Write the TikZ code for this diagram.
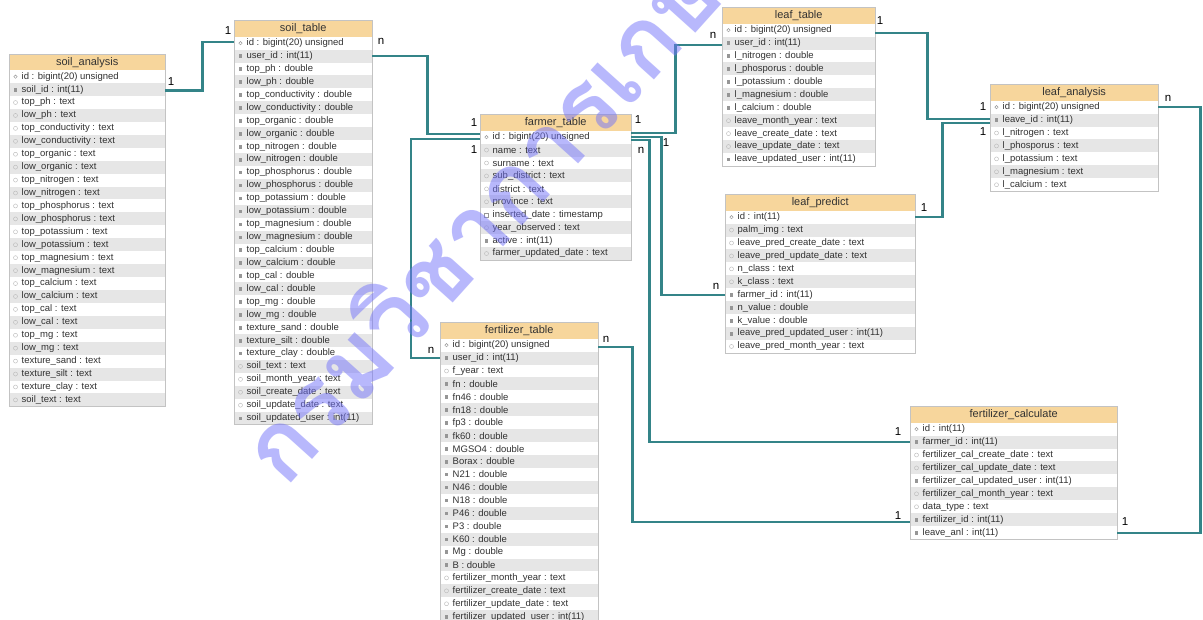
\documentclass[tikz,border=0pt]{standalone}
\usepackage{fontspec}
\setmainfont{Liberation Sans}
\newfontfamily\thaifont[Script=Thai]{Loma}
\definecolor{hdrfill}{RGB}{247,214,156}
\definecolor{rowgray}{RGB}{230,230,230}
\definecolor{bordergray}{RGB}{195,195,195}
\definecolor{txtgray}{RGB}{50,50,50}
\definecolor{iconcol}{RGB}{150,150,150}
\definecolor{conncol}{RGB}{52,132,136}
\definecolor{wmcol}{RGB}{115,115,250}
\tikzset{
  hdr/.style={fill=hdrfill, minimum height=16pt, inner sep=0pt, font=\fontsize{11}{12}\selectfont, text=txtgray},
  rowbox/.style={minimum height=12.93pt, inner sep=0pt},
  rowtxt/.style={anchor=west, inner sep=0pt, font=\fontsize{9.5}{10}\selectfont, text=txtgray},
  conn/.style={draw=conncol, line width=2.2pt},
  card/.style={font=\fontsize{11.5}{12}\selectfont, inner sep=0pt, text=black},
  wm/.style={text=wmcol, text opacity=0.5, inner sep=0pt, font=\fontsize{96}{100}\selectfont},
}
% #1 name, #2 left x, #3 top y, #4 width, #5 title, #6 rows
\newcommand{\ertable}[6]{%
  \node[hdr, minimum width=#4pt, anchor=north west] (#1) at (#2,#3) {#5};
  \foreach [count=\i] \ty/\tx in {#6} {
    \ifodd\i\def\rowfill{white}\else\def\rowfill{rowgray}\fi
    \node[rowbox, fill=\rowfill, minimum width=#4pt, anchor=north west] (#1-\i) at (#2,{#3+16+(\i-1)*12.93}) {};
    \if k\ty \draw[iconcol, line width=0.5pt] ([xshift=6.5pt]#1-\i.west) circle (1.7pt); \fi
    \if n\ty \fill[iconcol] ([xshift=5pt,yshift=-2pt]#1-\i.west) rectangle ++(3.2,-3.6); \fi
    \if t\ty \draw[iconcol!70, line width=0.4pt] ([xshift=6.5pt]#1-\i.west) circle (2pt); \fi
    \if d\ty \draw[iconcol, line width=0.4pt] ([xshift=4.5pt,yshift=-2pt]#1-\i.west) rectangle ++(4,-4); \fi
    \node[rowtxt] (#1-\i-t) at ([xshift=12.5pt]#1-\i.west) {\tx};
    \xdef\lastrow{\i}
  }
  \draw[bordergray, line width=0.6pt] (#1.north west) rectangle (#1-\lastrow.south east);
}
\begin{document}
\begin{tikzpicture}[x=1pt, y=-1pt]
\useasboundingbox (0,0) rectangle (1203,620);
\clip (0,0) rectangle (1203,620);
\fill[white] (0,0) rectangle (1203,620);

\ertable{sa}{9}{54}{156}{soil\_analysis}{k/id : bigint(20) unsigned, n/soil\_id : int(11), t/top\_ph : text, t/low\_ph : text, t/top\_conductivity : text, t/low\_conductivity : text, t/top\_organic : text, t/low\_organic : text, t/top\_nitrogen : text, t/low\_nitrogen : text, t/top\_phosphorus : text, t/low\_phosphorus : text, t/top\_potassium : text, t/low\_potassium : text, t/top\_magnesium : text, t/low\_magnesium : text, t/top\_calcium : text, t/low\_calcium : text, t/top\_cal : text, t/low\_cal : text, t/top\_mg : text, t/low\_mg : text, t/texture\_sand : text, t/texture\_silt : text, t/texture\_clay : text, t/soil\_text : text}

\ertable{st}{234}{20.5}{138}{soil\_table}{k/id : bigint(20) unsigned, n/user\_id : int(11), n/top\_ph : double, n/low\_ph : double, n/top\_conductivity : double, n/low\_conductivity : double, n/top\_organic : double, n/low\_organic : double, n/top\_nitrogen : double, n/low\_nitrogen : double, n/top\_phosphorus : double, n/low\_phosphorus : double, n/top\_potassium : double, n/low\_potassium : double, n/top\_magnesium : double, n/low\_magnesium : double, n/top\_calcium : double, n/low\_calcium : double, n/top\_cal : double, n/low\_cal : double, n/top\_mg : double, n/low\_mg : double, n/texture\_sand : double, n/texture\_silt : double, n/texture\_clay : double, t/soil\_text : text, t/soil\_month\_year : text, t/soil\_create\_date : text, t/soil\_update\_date : text, n/soil\_updated\_user : int(11)}

\ertable{ft}{480}{114.5}{151}{farmer\_table}{k/id : bigint(20) unsigned, t/name : text, t/surname : text, t/sub\_district : text, t/district : text, t/province : text, d/inserted\_date : timestamp, t/year\_observed : text, n/active : int(11), t/farmer\_updated\_date : text}

\ertable{lt}{722}{7.5}{153}{leaf\_table}{k/id : bigint(20) unsigned, n/user\_id : int(11), n/l\_nitrogen : double, n/l\_phosporus : double, n/l\_potassium : double, n/l\_magnesium : double, n/l\_calcium : double, t/leave\_month\_year : text, t/leave\_create\_date : text, t/leave\_update\_date : text, n/leave\_updated\_user : int(11)}

\ertable{la}{990}{84.5}{168}{leaf\_analysis}{k/id : bigint(20) unsigned, n/leave\_id : int(11), t/l\_nitrogen : text, t/l\_phosporus : text, t/l\_potassium : text, t/l\_magnesium : text, t/l\_calcium : text}

\ertable{lp}{725}{194.5}{190}{leaf\_predict}{k/id : int(11), t/palm\_img : text, t/leave\_pred\_create\_date : text, t/leave\_pred\_update\_date : text, t/n\_class : text, t/k\_class : text, n/farmer\_id : int(11), n/n\_value : double, n/k\_value : double, n/leave\_pred\_updated\_user : int(11), t/leave\_pred\_month\_year : text}

\ertable{fe}{440}{322.5}{158}{fertilizer\_table}{k/id : bigint(20) unsigned, n/user\_id : int(11), t/f\_year : text, n/fn : double, n/fn46 : double, n/fn18 : double, n/fp3 : double, n/fk60 : double, n/MGSO4 : double, n/Borax : double, n/N21 : double, n/N46 : double, n/N18 : double, n/P46 : double, n/P3 : double, n/K60 : double, n/Mg : double, n/B : double, t/fertilizer\_month\_year : text, t/fertilizer\_create\_date : text, t/fertilizer\_update\_date : text, n/fertilizer\_updated\_user : int(11)}

\ertable{fc}{910}{406.5}{207}{fertilizer\_calculate}{k/id : int(11), n/farmer\_id : int(11), t/fertilizer\_cal\_create\_date : text, t/fertilizer\_cal\_update\_date : text, n/fertilizer\_cal\_updated\_user : int(11), t/fertilizer\_cal\_month\_year : text, t/data\_type : text, n/fertilizer\_id : int(11), n/leave\_anl : int(11)}

% connectors
\draw[conn] ([yshift=-1pt]sa-2.east) -- ++(37,0) |- ([yshift=1pt]st-1.west);
\draw[conn] (st-2.east) -- ++(55,0) |- ([yshift=3pt]ft-1.west);
\draw[conn] ([yshift=-2pt]ft-1.west) -- ++(-69,0) |- (fe-2.west);
\draw[conn] ([yshift=4pt]ft-1.east) -- ++(44,0) |- ([yshift=-2pt]lt-2.west);
\draw[conn] (ft-1.east) -- ++(30,0) |- (lp-7.west);
\draw[conn] ([yshift=-3pt]ft-1.east) -- ++(18,0) |- (fc-2.west);
\draw[conn] ([yshift=-2.5pt]lt-1.east) -- ++(52,0) |- ([yshift=1pt]la-2.west);
\draw[conn] (lp-1.east) -- ++(27,0) |- ([yshift=-3pt]la-2.west);
\draw[conn] (la-1.east) -- ++(42,0) |- (fc-9.east);
\draw[conn] ([yshift=-2pt]fe-1.east) -- ++(34,0) |- ([yshift=-2pt]fc-8.west);

% cardinalities
\node[card] (c1) at (171,82) {1};
\node[card] (c2) at (228,31) {1};
\node[card] (c3) at (381,41) {n};
\node[card] (c4) at (474,123) {1};
\node[card] (c5) at (474,150) {1};
\node[card] (c6) at (431,350) {n};
\node[card] (c7) at (638,120) {1};
\node[card] (c8) at (641,150) {n};
\node[card] (c9) at (666,143) {1};
\node[card] (c10) at (713,35) {n};
\node[card] (c11) at (880,21) {1};
\node[card] (c12) at (983,107) {1};
\node[card] (c13) at (924,208) {1};
\node[card] (c14) at (983,132) {1};
\node[card] (c15) at (1168,98) {n};
\node[card] (c16) at (716,286) {n};
\node[card] (c17) at (606,339) {n};
\node[card] (c18) at (898,432) {1};
\node[card] (c19) at (898,516) {1};
\node[card] (c20) at (1125,522) {1};

% watermark
\node[wm, rotate=48, anchor=base west] (wmark) at (285,490) {\thaifont\bfseries กรมวิชาการเกษตร};
\end{tikzpicture}
\end{document}
